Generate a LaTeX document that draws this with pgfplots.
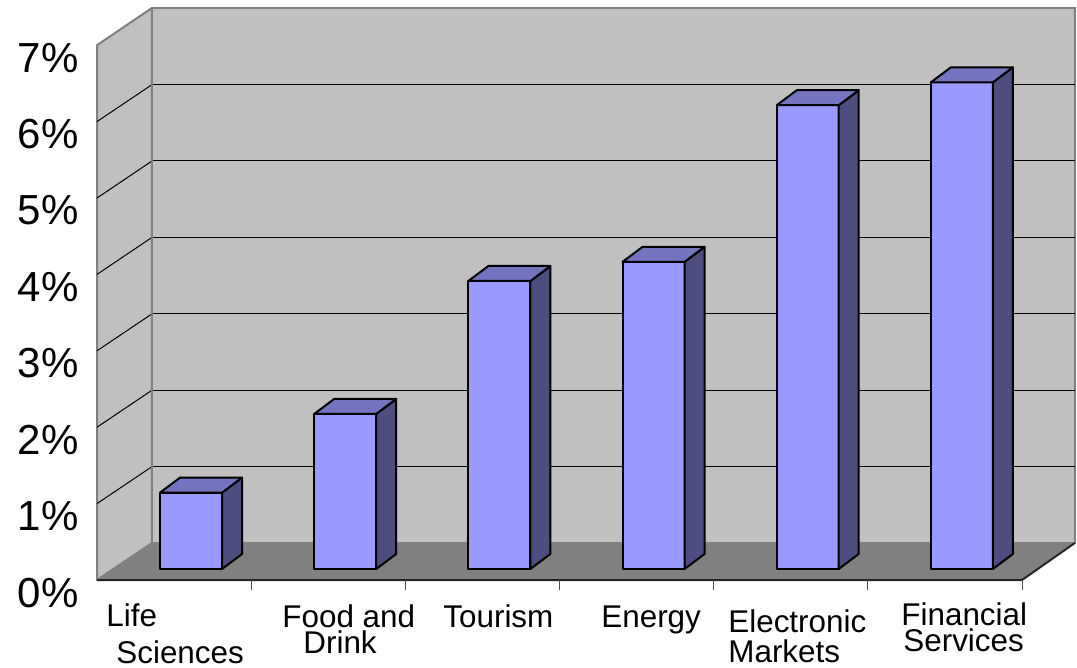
\documentclass[border=0pt]{standalone}
\usepackage{fontspec}
\setmainfont{Liberation Sans}
\usepackage{pgfplots}
\usepackage{pgfplotstable}
\pgfplotsset{compat=1.18}

\definecolor{frontc}{HTML}{9999FF}
\definecolor{sidec}{HTML}{4D4D80}
\definecolor{topc}{HTML}{7373BF}
\definecolor{wallc}{HTML}{C0C0C0}
\definecolor{floorc}{HTML}{808080}

\pgfplotstableread{
x v
0 1.00
1 2.03
2 3.77
3 4.02
4 6.07
5 6.37
}\datatable

\newcommand\lbl[2]{\rlap{\raisebox{-#1}{#2}}}

\begin{document}
\begin{tikzpicture}
\begin{axis}[
  x=77.083pt, y=38.2pt,
  xmin=0, xmax=6, ymin=-0.144, ymax=6.856,
  clip=false,
  axis line style={draw=none},
  tick style={draw=none},
  major tick length=0pt,
  xtick={0.0519,1.1935,2.2378,3.2626,4.0864,5.2086},
  xticklabels={
    {\lbl{23pt}{Life}\lbl{41.5pt}{\hspace{5pt}Sciences}},
    {\lbl{23.5pt}{Food and}\lbl{36.5pt}{\hspace{10.5pt}Drink}},
    {\lbl{23.5pt}{Tourism}},
    {\lbl{23.5pt}{Energy}},
    {\lbl{26pt}{Electronic}\lbl{41pt}{Markets}},
    {\lbl{22.5pt}{Financial}\lbl{35.5pt}{\hspace{1pt}Services}}
  },
  xticklabel style={anchor=base west, inner sep=0pt, font=\fontsize{15.7pt}{18pt}\selectfont},
  ytick={-0.144,0.856,1.856,2.856,3.856,4.856,5.856,6.856},
  yticklabels={0\%,1\%,2\%,3\%,4\%,5\%,6\%,7\%},
  yticklabel style={anchor=base east, inner sep=0pt, xshift=-9pt, yshift=-13.5pt, font=\fontsize{21pt}{24pt}\selectfont},
  /pgf/number format/assume math mode=true,
]
% back wall
\fill[wallc, draw=floorc, line width=1pt] (axis cs:0.3567,0.3403) rectangle (axis cs:6.3424,7.3430);
% left wall
\fill[wallc, draw=floorc, line width=1pt, line join=round] (axis cs:0,-0.144) -- (axis cs:0,6.856) -- (axis cs:0.3567,7.343) -- (axis cs:0.3567,0.3403) -- cycle;
% grid lines on back wall
\draw[black, line width=0.5pt] (axis cs:0.3567,1.3403) -- (axis cs:6.3424,1.3403);
\draw[black, line width=0.5pt] (axis cs:0.3567,2.3403) -- (axis cs:6.3424,2.3403);
\draw[black, line width=0.5pt] (axis cs:0.3567,3.3403) -- (axis cs:6.3424,3.3403);
\draw[black, line width=0.5pt] (axis cs:0.3567,4.3403) -- (axis cs:6.3424,4.3403);
\draw[black, line width=0.5pt] (axis cs:0.3567,5.3403) -- (axis cs:6.3424,5.3403);
\draw[black, line width=0.5pt] (axis cs:0.3567,6.3403) -- (axis cs:6.3424,6.3403);
% grid lines on left wall
\draw[black, line width=0.5pt] (axis cs:0,0.856) -- (axis cs:0.3567,1.3403);
\draw[black, line width=0.5pt] (axis cs:0,1.856) -- (axis cs:0.3567,2.3403);
\draw[black, line width=0.5pt] (axis cs:0,2.856) -- (axis cs:0.3567,3.3403);
\draw[black, line width=0.5pt] (axis cs:0,3.856) -- (axis cs:0.3567,4.3403);
\draw[black, line width=0.5pt] (axis cs:0,4.856) -- (axis cs:0.3567,5.3403);
\draw[black, line width=0.5pt] (axis cs:0,5.856) -- (axis cs:0.3567,6.3403);
% vertical edge of back wall
\draw[floorc, line width=1pt] (axis cs:0.3567,0.3403) -- (axis cs:0.3567,7.343);
% floor
\fill[floorc] (axis cs:0,-0.144) -- (axis cs:6,-0.144) -- (axis cs:6.3424,0.3403) -- (axis cs:0.3567,0.3403) -- cycle;
\draw[black!85, line width=1pt, line join=round] (axis cs:0,-0.144) -- (axis cs:6,-0.144) -- (axis cs:6.3424,0.3403);
% x tick marks
\draw[black!70, line width=0.5pt] (axis cs:1,-0.144) -- ++(0pt,-5pt);
\draw[black!70, line width=0.5pt] (axis cs:2,-0.144) -- ++(0pt,-5pt);
\draw[black!70, line width=0.5pt] (axis cs:3,-0.144) -- ++(0pt,-5pt);
\draw[black!70, line width=0.5pt] (axis cs:4,-0.144) -- ++(0pt,-5pt);
\draw[black!70, line width=0.5pt] (axis cs:5,-0.144) -- ++(0pt,-5pt);
\draw[black!70, line width=0.5pt] (axis cs:6,-0.144) -- ++(0pt,-5pt);

% front faces
\addplot[ybar, bar width=0.4022, fill=frontc, draw=black, line width=1pt, line join=round]
  table[x expr=\thisrow{x}+0.61, y=v] {\datatable};
% side and top faces
\addplot[
  scatter, only marks, mark=*, mark size=0pt,
  mark options={draw=none, fill=none},
  visualization depends on={\thisrow{v} \as \val},
  scatter/@pre marker code/.code={%
    \pgfmathsetmacro\h{\val*38.2}%
    \filldraw[fill=sidec, draw=black, line width=1pt, line join=round]
      (0pt,0pt) -- (10pt,7.5pt) -- (10pt,7.5pt-\h pt) -- (0pt,-\h pt) -- cycle;
    \filldraw[fill=topc, draw=black, line width=1pt, line join=round]
      (0pt,0pt) -- (-31pt,0pt) -- (-21pt,7.5pt) -- (10pt,7.5pt) -- cycle;
  },
  scatter/@post marker code/.code={},
] table[x expr=\thisrow{x}+0.811, y=v] {\datatable};

\coordinate (bbBL) at (axis cs:-0.6292,-1.2827);
\coordinate (bbTR) at (axis cs:6.3566,7.4476);
\end{axis}
\pgfresetboundingbox
\path[use as bounding box] (bbBL) rectangle (bbTR);
\end{tikzpicture}
\end{document}
